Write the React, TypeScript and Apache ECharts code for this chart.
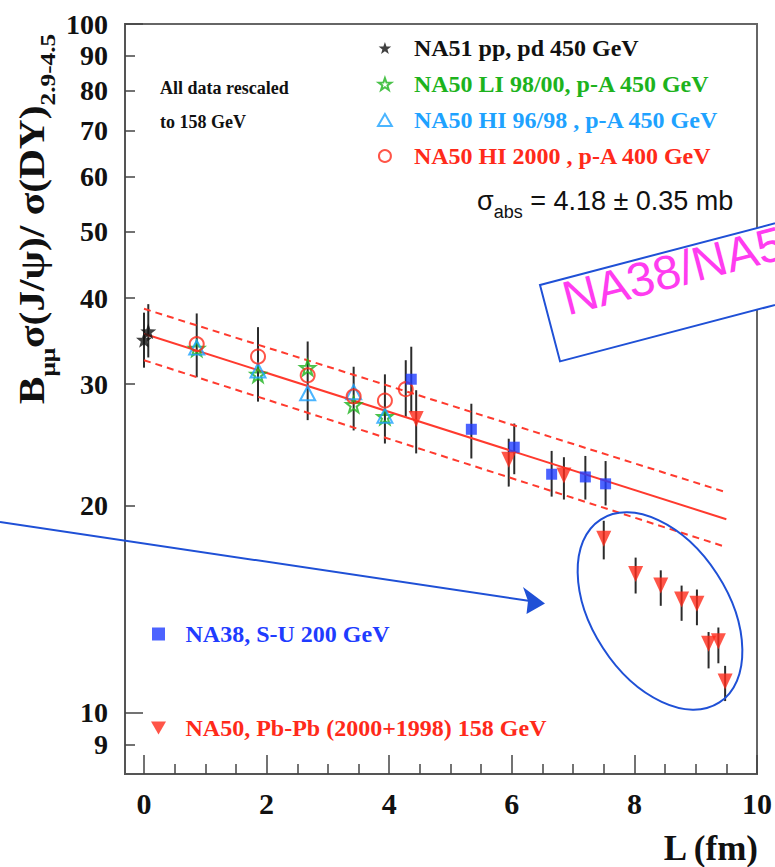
import React, { useEffect, useRef } from "react";
import * as echarts from "echarts";

// ---- data -------------------------------------------------------------
// NA51 pp, pd 450 GeV
const na51L = [0.0, 0.07];
const na51V = [34.8, 35.8];
const na51Lo = [31.7, 32.8];
const na51Hi = [38.1, 39.2];

// NA50 p-A measurements
const pAL = [0.86, 1.86, 2.67, 3.42, 3.93];
const li9800V = [33.8, 31.0, 31.7, 28.0, 26.9];
const hi9698V = [33.9, 31.4, 29.1, 29.2, 27.0];
const hi2000L = [0.86, 1.86, 2.67, 3.42, 3.93, 4.27];
const hi2000V = [34.3, 32.9, 30.9, 28.8, 28.4, 29.5];
const pALo = [30.7, 28.3, 26.6, 25.7, 24.6, 26.9];
const pAHi = [38.0, 36.3, 34.6, 31.8, 31.0, 32.5];

// NA38 S-U 200 GeV
const na38L = [4.36, 5.34, 6.04, 6.65, 7.2, 7.53];
const na38V = [30.5, 25.8, 24.3, 22.2, 22.0, 21.5];
const na38Lo = [27.3, 23.4, 22.2, 20.6, 20.4, 20.0];
const na38Hi = [34.0, 28.1, 26.3, 24.0, 23.6, 23.2];

// NA50 Pb-Pb (2000+1998) 158 GeV
const pbL = [4.44, 5.95, 6.85, 7.5, 8.02, 8.43, 8.77, 9.02, 9.21, 9.37, 9.48];
const pbV = [26.7, 23.3, 22.1, 17.9, 15.9, 15.3, 14.6, 14.4, 12.6, 12.7, 11.1];
const pbLo = [23.8, 21.3, 20.4, 16.7, 14.9, 14.3, 13.6, 13.4, 11.6, 11.8, 10.4];
const pbHi = [29.4, 25.0, 23.5, 19.0, 16.8, 16.1, 15.3, 15.1, 13.1, 13.3, 11.7];

// absorption fit (normal nuclear absorption) and its error band
const fitL = [0, 9.5];
const fitCentral = [35.5, 19.1];
const fitUpper = [38.6, 20.9];
const fitLower = [32.5, 17.4];

// axis ticks
const yLabelValues = [9, 10, 20, 30, 40, 50, 60, 70, 80, 90, 100];
const yMajorTicks = [10, 100];
const yMinorTicks = [9, 20, 30, 40, 50, 60, 70, 80, 90];
const xMajorTicks = [0, 2, 4, 6, 8, 10];
const xMinorTicks = [0.5, 1, 1.5, 2.5, 3, 3.5, 4.5, 5, 5.5, 6.5, 7, 7.5, 8.5, 9, 9.5];

// series names
const nameNA51 = "NA51 pp, pd 450 GeV";
const nameLI = "NA50 LI 98/00, p-A 450 GeV";
const nameHI9698 = "NA50 HI 96/98 , p-A 450 GeV";
const nameHI2000 = "NA50 HI 2000 , p-A 400 GeV";
const nameNA38 = "NA38, S-U 200 GeV";
const namePbPb = "NA50, Pb-Pb (2000+1998) 158 GeV";

// ---- styling ----------------------------------------------------------
const SERIF = '"Liberation Serif", "Times New Roman", serif';
const SANS = '"Liberation Sans", Arial, sans-serif';
const BLACK = "#111111";
const GREEN = "#1db31d";
const LIGHTBLUE = "#1ea2ff";
const RED = "#ff2a1a";
const BLUE = "#1f3cff";
const FITRED = "#ff3a2e";
const ANNOT = "#1f50d6";
const MAGENTA = "#ff3cf0";

// marker shapes as paths so that legend icons keep their proportions
const starPath =
  "path://" +
  Array.from({ length: 10 }, (_, i) => {
    const r = i % 2 === 0 ? 10 : 4;
    const a = -Math.PI / 2 + (i * Math.PI) / 5;
    return `${i === 0 ? "M" : "L"}${(r * Math.cos(a)).toFixed(3)} ${(r * Math.sin(a)).toFixed(3)}`;
  }).join(" ") +
  " Z";
const triUpPath = "path://M0 -10 L8.66 5 L-8.66 5 Z";
const triDownPath = "path://M-8.66 -5 L8.66 -5 L0 10 Z";
const squarePath = "path://M0 0 L10 0 L10 10 L0 10 Z";

const zip = (xs: number[], ys: number[]) => xs.map((x, i) => [x, ys[i]]);
const zip3 = (xs: number[], a: number[], b: number[]) => xs.map((x, i) => [x, a[i], b[i]]);

const errorBars = (name: string, data: number[][]) => ({
  type: "custom",
  name,
  z: 2,
  silent: true,
  encode: { x: 0, y: [1, 2] },
  data,
  renderItem: (_params: any, api: any) => {
    const x = api.value(0);
    const p1 = api.coord([x, api.value(1)]);
    const p2 = api.coord([x, api.value(2)]);
    return {
      type: "line",
      shape: { x1: p1[0], y1: p1[1], x2: p2[0], y2: p2[1] },
      style: { stroke: "#2b2b2b", lineWidth: 2 },
    };
  },
});

const fitLine = (name: string, ys: number[], dashed: boolean) => ({
  type: "line",
  name,
  z: 3,
  silent: true,
  symbol: "none",
  data: zip(fitL, ys),
  lineStyle: { color: FITRED, width: 2, type: dashed ? [7, 5] : "solid" },
});

const openStyle = (c: string) => ({ color: "rgba(255,255,255,0)", borderColor: c, borderWidth: 2 });

export default function App() {
  const ref = useRef<HTMLDivElement>(null);

  useEffect(() => {
    if (!ref.current) return;
    const chart = echarts.init(ref.current, null, { renderer: "svg" });

    const tickLine = { color: "#444", width: 1.5 };
    const axisLine = { show: true, onZero: false, lineStyle: { color: "#555", width: 2 } };

    const option: any = {
      animation: false,
      backgroundColor: "#ffffff",
      grid: {
        left: 125,
        right: 16,
        top: 24,
        bottom: 93,
        show: true,
        borderColor: "#666",
        borderWidth: 2,
        backgroundColor: "rgba(0,0,0,0)",
      },
      xAxis: [
        {
          type: "value",
          min: -0.31,
          max: 10,
          position: "bottom",
          axisLine,
          splitLine: { show: false },
          axisTick: { show: true, inside: true, length: 19, customValues: xMajorTicks, lineStyle: tickLine },
          axisLabel: {
            customValues: xMajorTicks,
            margin: 14,
            color: BLACK,
            fontFamily: SERIF,
            fontWeight: "bold",
            fontSize: 30,
          },
        },
        {
          type: "value",
          min: -0.31,
          max: 10,
          position: "bottom",
          axisLine: { show: false, onZero: false },
          splitLine: { show: false },
          axisTick: { show: true, inside: true, length: 10, customValues: xMinorTicks, lineStyle: tickLine },
          axisLabel: { show: false },
        },
      ],
      yAxis: [
        {
          type: "log",
          min: 8.15,
          max: 100,
          position: "left",
          axisLine,
          splitLine: { show: false },
          axisTick: { show: true, inside: true, length: 18, customValues: yMajorTicks, lineStyle: tickLine },
          axisLabel: {
            customValues: yLabelValues,
            margin: 17,
            color: BLACK,
            fontFamily: SERIF,
            fontWeight: "bold",
            fontSize: 28,
          },
        },
        {
          type: "log",
          min: 8.15,
          max: 100,
          position: "left",
          axisLine: { show: false, onZero: false },
          splitLine: { show: false },
          axisTick: { show: true, inside: true, length: 10, customValues: yMinorTicks, lineStyle: tickLine },
          axisLabel: { show: false },
        },
      ],
      legend: [
        {
          orient: "vertical",
          left: 377,
          top: 36,
          padding: 0,
          itemGap: 12,
          itemWidth: 48,
          itemHeight: 12,
          selectedMode: false,
          textStyle: { fontFamily: SERIF, fontWeight: "bold", fontSize: 24 },
          data: [
            { name: nameNA51, textStyle: { color: BLACK } },
            { name: nameLI, textStyle: { color: GREEN } },
            { name: nameHI9698, textStyle: { color: LIGHTBLUE } },
            { name: nameHI2000, textStyle: { color: RED } },
          ],
        },
        {
          orient: "vertical",
          left: 151,
          top: 622,
          padding: 0,
          itemGap: 70,
          itemWidth: 44,
          itemHeight: 13,
          selectedMode: false,
          textStyle: { fontFamily: SERIF, fontWeight: "bold", fontSize: 24 },
          data: [
            { name: nameNA38, textStyle: { color: BLUE } },
            { name: namePbPb, textStyle: { color: RED } },
          ],
        },
      ],
      series: [
        errorBars("na51-err", zip3(na51L, na51Lo, na51Hi)),
        errorBars("pA-err", zip3(hi2000L, pALo, pAHi)),
        errorBars("na38-err", zip3(na38L, na38Lo, na38Hi)),
        errorBars("pb-err", zip3(pbL, pbLo, pbHi)),
        fitLine("fit", fitCentral, false),
        fitLine("fit-up", fitUpper, true),
        fitLine("fit-low", fitLower, true),
        {
          type: "scatter",
          name: nameNA51,
          z: 5,
          symbol: starPath,
          symbolSize: 16,
          itemStyle: { color: BLACK },
          data: zip(na51L, na51V),
        },
        {
          type: "scatter",
          name: nameLI,
          z: 5,
          symbol: starPath,
          symbolSize: 15,
          itemStyle: openStyle(GREEN),
          data: zip(pAL, li9800V),
        },
        {
          type: "scatter",
          name: nameHI9698,
          z: 5,
          symbol: triUpPath,
          symbolSize: [15, 14],
          itemStyle: openStyle(LIGHTBLUE),
          data: zip(pAL, hi9698V),
        },
        {
          type: "scatter",
          name: nameHI2000,
          z: 5,
          symbol: "circle",
          symbolSize: 14,
          itemStyle: openStyle(RED),
          data: zip(hi2000L, hi2000V),
        },
        {
          type: "scatter",
          name: nameNA38,
          z: 5,
          symbol: squarePath,
          symbolSize: 11,
          itemStyle: { color: BLUE },
          data: zip(na38L, na38V),
        },
        {
          type: "scatter",
          name: namePbPb,
          z: 5,
          symbol: triDownPath,
          symbolSize: [15, 16],
          itemStyle: { color: RED },
          data: zip(pbL, pbV),
        },
      ],
      graphic: [
        // y-axis title
        {
          type: "text",
          x: 36,
          y: 219,
          rotation: Math.PI / 2,
          scaleX: 1.15,
          style: {
            text: "{b|B}{s|μμ}{b|σ(J/ψ)/ σ(DY)}{s|2.9-4.5}",
            align: "center",
            verticalAlign: "middle",
            fill: BLACK,
            rich: {
              b: {
                fontFamily: SERIF,
                fontWeight: "bold",
                fontSize: 36,
                fill: BLACK,
                verticalAlign: "bottom",
                padding: [0, 0, 9, 0],
              },
              s: {
                fontFamily: SERIF,
                fontWeight: "bold",
                fontSize: 22,
                fill: BLACK,
                verticalAlign: "bottom",
              },
            },
          },
        },
        // x-axis title
        {
          type: "text",
          x: 758,
          y: 848,
          style: {
            text: "L (fm)",
            align: "right",
            verticalAlign: "middle",
            fill: BLACK,
            fontFamily: SERIF,
            fontWeight: "bold",
            fontSize: 35,
          },
        },
        {
          type: "text",
          x: 160,
          y: 88,
          style: {
            text: "All data rescaled",
            verticalAlign: "middle",
            fill: BLACK,
            fontFamily: SERIF,
            fontWeight: "bold",
            fontSize: 18,
          },
        },
        {
          type: "text",
          x: 160,
          y: 122,
          style: {
            text: "to 158 GeV",
            verticalAlign: "middle",
            fill: BLACK,
            fontFamily: SERIF,
            fontWeight: "bold",
            fontSize: 18,
          },
        },
        // absorption cross-section
        {
          type: "text",
          x: 477,
          y: 204,
          style: {
            text: "{g|σ}{sub|abs}{m| = 4.18 ± 0.35 mb}",
            verticalAlign: "middle",
            fill: BLACK,
            rich: {
              g: { fontFamily: SANS, fontSize: 27, fill: BLACK, verticalAlign: "bottom", padding: [0, 0, 7, 0] },
              sub: { fontFamily: SANS, fontSize: 18, fill: BLACK, verticalAlign: "bottom" },
              m: { fontFamily: SANS, fontSize: 27, fill: BLACK, verticalAlign: "bottom", padding: [0, 0, 7, 0] },
            },
          },
        },
        // arrow pointing to the suppressed points
        {
          type: "line",
          z: 50,
          shape: { x1: 0, y1: 522, x2: 530, y2: 601 },
          style: { stroke: ANNOT, lineWidth: 2 },
        },
        {
          type: "polygon",
          z: 50,
          shape: {
            points: [
              [545, 603.5],
              [523, 587],
              [528, 601],
              [526.5, 614],
            ],
          },
          style: { fill: ANNOT },
        },
        // ellipse around the anomalous points
        {
          type: "ellipse",
          z: 50,
          x: 660,
          y: 611,
          rotation: (-57 * Math.PI) / 180,
          shape: { cx: 0, cy: 0, rx: 109, ry: 68 },
          style: { fill: "none", stroke: ANNOT, lineWidth: 2 },
        },
        // experiment tag box
        {
          type: "group",
          z: 60,
          x: 540,
          y: 285,
          rotation: (14.7 * Math.PI) / 180,
          children: [
            {
              type: "rect",
              z: 60,
              shape: { x: 0, y: 0, width: 320, height: 79 },
              style: { fill: "#ffffff", stroke: ANNOT, lineWidth: 2 },
            },
            {
              type: "text",
              z: 61,
              x: 19,
              y: 20,
              style: {
                text: "NA38/NA50",
                fill: MAGENTA,
                fontFamily: SANS,
                fontSize: 48,
                verticalAlign: "middle",
              },
            },
          ],
        },
      ],
    };

    chart.setOption(option);
    return () => chart.dispose();
  }, []);

  return (
    <div
      ref={ref}
      style={{ position: "absolute", left: 0, top: 0, width: 775, height: 867, background: "#fff" }}
    />
  );
}
